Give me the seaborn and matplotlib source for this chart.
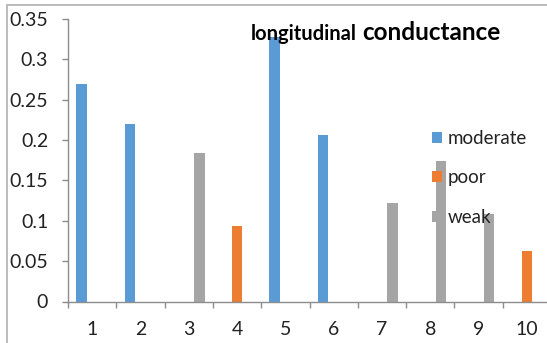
import matplotlib
matplotlib.use("Agg")
import matplotlib.pyplot as plt
import seaborn as sns
import pandas as pd
from matplotlib.lines import Line2D

samples = ["1", "2", "3", "4", "5", "6", "7", "8", "9", "10"]
values = [0.27, 0.22, 0.184, 0.093, 0.328, 0.206, 0.122, 0.174, 0.108, 0.063]
classes = ["moderate", "moderate", "weak", "poor", "moderate", "moderate",
           "weak", "weak", "weak", "poor"]
class_order = ["moderate", "poor", "weak"]
class_colors = ["#5B9BD5", "#ED7D31", "#A5A5A5"]
y_ticks = [0, 0.05, 0.1, 0.15, 0.2, 0.25, 0.3, 0.35]
y_tick_labels = ["0", "0.05", "0.1", "0.15", "0.2", "0.25", "0.3", "0.35"]

df = pd.DataFrame({"sample": samples, "value": values, "class": classes})

sns.set_theme(style="white")
plt.rcParams["font.family"] = ["Lato", "DejaVu Sans"]

W, H = 547, 343
fig = plt.figure(figsize=(W / 100, H / 100), dpi=100)
ax = fig.add_axes([68 / W, 1 - 301.5 / H, (551 - 68) / W, (301.5 - 19) / H])

sns.barplot(data=df, x="sample", y="value", hue="class", hue_order=class_order,
            palette=class_colors, order=samples, width=0.66, dodge=True, gap=0,
            saturation=1, ax=ax, linewidth=0)

ax.set_xlim(-0.5, len(samples) - 0.5)
ax.set_ylim(0, 0.35)
ax.set_yticks(y_ticks)
ax.set_yticklabels(y_tick_labels)
ax.set_xlabel("")
ax.set_ylabel("")

# major ticks at category boundaries, labels at centres
ax.set_xticks([i - 0.5 for i in range(len(samples) + 1)])
ax.set_xticklabels([""] * (len(samples) + 1))
ax.set_xticks(range(len(samples)), minor=True)
ax.set_xticklabels(samples, minor=True)

axis_color = "#8C8C8C"
for s in ["top", "right"]:
    ax.spines[s].set_visible(False)
for s in ["left", "bottom"]:
    ax.spines[s].set_color(axis_color)
    ax.spines[s].set_linewidth(1.0)

fs = 14
ax.tick_params(axis="y", which="major", direction="out", length=4.3, width=1.0,
               color=axis_color, labelsize=fs, labelcolor="#222222", pad=10, left=True)
ax.tick_params(axis="x", which="major", direction="out", length=4.3, width=1.0,
               color=axis_color, bottom=True)
ax.tick_params(axis="x", which="minor", length=0, labelsize=fs,
               labelcolor="#222222", pad=14, bottom=True)

handles, labels = ax.get_legend_handles_labels()
ax.legend(handles, labels, loc="upper left", bbox_to_anchor=(432 / W, 1 - 130 / H),
          bbox_transform=fig.transFigure, frameon=False, fontsize=13.5,
          handlelength=0.54, handleheight=0.54, handletextpad=0.3,
          labelspacing=1.2, borderpad=0, borderaxespad=0, labelcolor="#222222")

# title: two sizes
fig.text(357 / W, 1 - 40 / H, "longitudinal", ha="right", va="baseline",
         fontsize=14.5, fontweight="bold", color="black")
fig.text(362 / W, 1 - 40 / H, "conductance", ha="left", va="baseline",
         fontsize=17.5, fontweight="bold", color="black")

# outer chart frame (top and left visible)
frame_color = "#B0B0B0"
fig.add_artist(Line2D([7 / W, 7 / W], [0, 1 - 5 / H], transform=fig.transFigure,
                      color=frame_color, linewidth=1.2))
fig.add_artist(Line2D([7 / W, 1], [1 - 5 / H, 1 - 5 / H], transform=fig.transFigure,
                      color=frame_color, linewidth=1.2))

fig.savefig("out.png", dpi=100)
